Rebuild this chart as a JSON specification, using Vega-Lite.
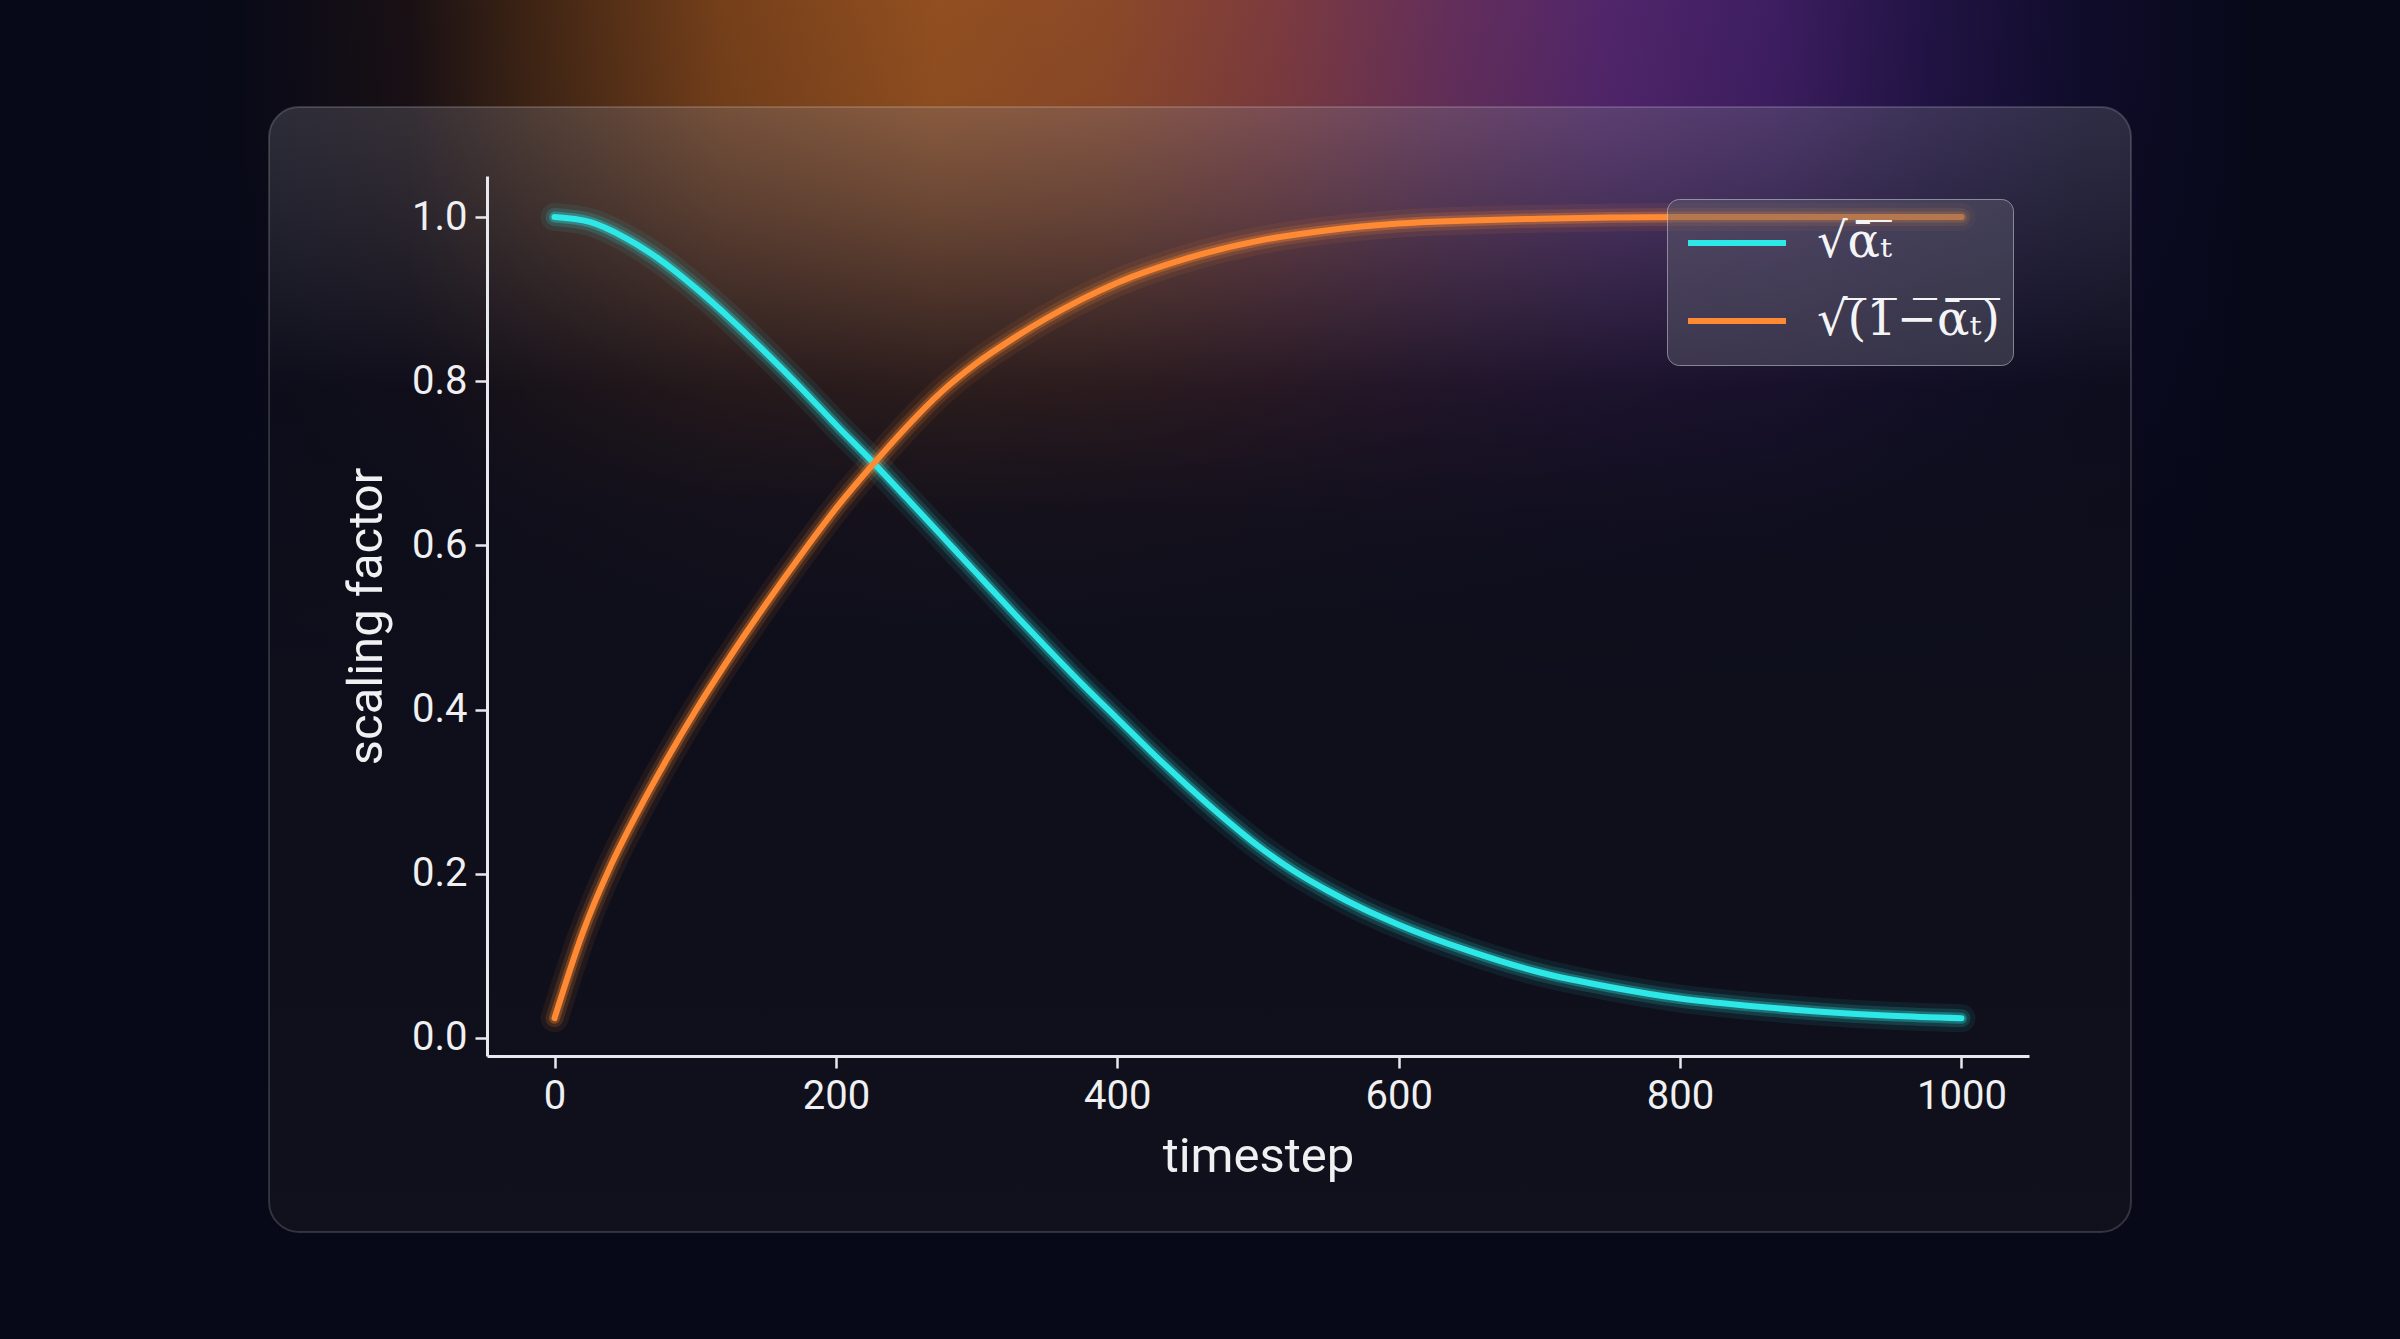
{
  "$schema": "https://vega.github.io/schema/vega-lite/v6.json",
  "autosize": {"type": "none"},
  "padding": {"left": 487, "top": 176, "right": 371, "bottom": 283},
  "width": 1542,
  "height": 880,
  "background": "#070919",
  "config": {
    "view": {"stroke": null},
    "axis": {
      "grid": false,
      "domainColor": "#e8e8ee",
      "domainWidth": 3,
      "tickColor": "#e8e8ee",
      "tickWidth": 2.5,
      "tickSize": 12,
      "labelColor": "#f0f0f2",
      "labelFont": "Roboto",
      "labelFontSize": 40,
      "labelPadding": 8,
      "labelFlush": false,
      "labelOverlap": false,
      "titleColor": "#f0f0f2",
      "titleFont": "Roboto",
      "titleFontSize": 49,
      "titleFontWeight": "normal"
    }
  },
  "datasets": {
    "curves": [
      {"t": 0, "series": "√ᾱ̅ₜ̅", "v": 1.0},
      {"t": 25, "series": "√ᾱ̅ₜ̅", "v": 0.994},
      {"t": 50, "series": "√ᾱ̅ₜ̅", "v": 0.975},
      {"t": 75, "series": "√ᾱ̅ₜ̅", "v": 0.948},
      {"t": 100, "series": "√ᾱ̅ₜ̅", "v": 0.914},
      {"t": 125, "series": "√ᾱ̅ₜ̅", "v": 0.876},
      {"t": 150, "series": "√ᾱ̅ₜ̅", "v": 0.835},
      {"t": 175, "series": "√ᾱ̅ₜ̅", "v": 0.792},
      {"t": 200, "series": "√ᾱ̅ₜ̅", "v": 0.747},
      {"t": 227, "series": "√ᾱ̅ₜ̅", "v": 0.7},
      {"t": 250, "series": "√ᾱ̅ₜ̅", "v": 0.658},
      {"t": 275, "series": "√ᾱ̅ₜ̅", "v": 0.612},
      {"t": 300, "series": "√ᾱ̅ₜ̅", "v": 0.566},
      {"t": 325, "series": "√ᾱ̅ₜ̅", "v": 0.52},
      {"t": 350, "series": "√ᾱ̅ₜ̅", "v": 0.475},
      {"t": 375, "series": "√ᾱ̅ₜ̅", "v": 0.431},
      {"t": 400, "series": "√ᾱ̅ₜ̅", "v": 0.389},
      {"t": 425, "series": "√ᾱ̅ₜ̅", "v": 0.347},
      {"t": 450, "series": "√ᾱ̅ₜ̅", "v": 0.307},
      {"t": 475, "series": "√ᾱ̅ₜ̅", "v": 0.269},
      {"t": 500, "series": "√ᾱ̅ₜ̅", "v": 0.234},
      {"t": 525, "series": "√ᾱ̅ₜ̅", "v": 0.204},
      {"t": 550, "series": "√ᾱ̅ₜ̅", "v": 0.179},
      {"t": 575, "series": "√ᾱ̅ₜ̅", "v": 0.157},
      {"t": 600, "series": "√ᾱ̅ₜ̅", "v": 0.138},
      {"t": 650, "series": "√ᾱ̅ₜ̅", "v": 0.106},
      {"t": 700, "series": "√ᾱ̅ₜ̅", "v": 0.08},
      {"t": 750, "series": "√ᾱ̅ₜ̅", "v": 0.062},
      {"t": 800, "series": "√ᾱ̅ₜ̅", "v": 0.048},
      {"t": 850, "series": "√ᾱ̅ₜ̅", "v": 0.039},
      {"t": 900, "series": "√ᾱ̅ₜ̅", "v": 0.032},
      {"t": 950, "series": "√ᾱ̅ₜ̅", "v": 0.027},
      {"t": 1000, "series": "√ᾱ̅ₜ̅", "v": 0.024},
      {"t": 0, "series": "√(̅1̅−̅ᾱ̅ₜ̅)̅", "v": 0.024},
      {"t": 20, "series": "√(̅1̅−̅ᾱ̅ₜ̅)̅", "v": 0.128},
      {"t": 40, "series": "√(̅1̅−̅ᾱ̅ₜ̅)̅", "v": 0.21},
      {"t": 60, "series": "√(̅1̅−̅ᾱ̅ₜ̅)̅", "v": 0.278},
      {"t": 80, "series": "√(̅1̅−̅ᾱ̅ₜ̅)̅", "v": 0.34},
      {"t": 100, "series": "√(̅1̅−̅ᾱ̅ₜ̅)̅", "v": 0.398},
      {"t": 125, "series": "√(̅1̅−̅ᾱ̅ₜ̅)̅", "v": 0.465},
      {"t": 150, "series": "√(̅1̅−̅ᾱ̅ₜ̅)̅", "v": 0.528},
      {"t": 175, "series": "√(̅1̅−̅ᾱ̅ₜ̅)̅", "v": 0.588},
      {"t": 200, "series": "√(̅1̅−̅ᾱ̅ₜ̅)̅", "v": 0.645},
      {"t": 227, "series": "√(̅1̅−̅ᾱ̅ₜ̅)̅", "v": 0.7},
      {"t": 250, "series": "√(̅1̅−̅ᾱ̅ₜ̅)̅", "v": 0.744},
      {"t": 275, "series": "√(̅1̅−̅ᾱ̅ₜ̅)̅", "v": 0.787},
      {"t": 300, "series": "√(̅1̅−̅ᾱ̅ₜ̅)̅", "v": 0.822},
      {"t": 325, "series": "√(̅1̅−̅ᾱ̅ₜ̅)̅", "v": 0.851},
      {"t": 350, "series": "√(̅1̅−̅ᾱ̅ₜ̅)̅", "v": 0.877},
      {"t": 375, "series": "√(̅1̅−̅ᾱ̅ₜ̅)̅", "v": 0.9},
      {"t": 400, "series": "√(̅1̅−̅ᾱ̅ₜ̅)̅", "v": 0.92},
      {"t": 450, "series": "√(̅1̅−̅ᾱ̅ₜ̅)̅", "v": 0.95},
      {"t": 500, "series": "√(̅1̅−̅ᾱ̅ₜ̅)̅", "v": 0.971},
      {"t": 550, "series": "√(̅1̅−̅ᾱ̅ₜ̅)̅", "v": 0.984},
      {"t": 600, "series": "√(̅1̅−̅ᾱ̅ₜ̅)̅", "v": 0.992},
      {"t": 700, "series": "√(̅1̅−̅ᾱ̅ₜ̅)̅", "v": 0.998},
      {"t": 800, "series": "√(̅1̅−̅ᾱ̅ₜ̅)̅", "v": 1.0},
      {"t": 900, "series": "√(̅1̅−̅ᾱ̅ₜ̅)̅", "v": 1.0},
      {"t": 1000, "series": "√(̅1̅−̅ᾱ̅ₜ̅)̅", "v": 1.0}
    ]
  },
  "data": {"name": "curves"},
  "layer": [
    {
      "data": {"values": [{}]},
      "mark": {"type": "rect", "color": {"gradient": "linear", "x1": 0, "y1": 0, "x2": 1, "y2": 0, "stops": [
        {"offset": 0, "color": "rgb(7,9,25)"},
        {"offset": 0.1, "color": "rgb(9,10,24)"},
        {"offset": 0.17, "color": "rgb(25,16,20)"},
        {"offset": 0.22, "color": "rgb(62,36,20)"},
        {"offset": 0.3, "color": "rgb(118,64,26)"},
        {"offset": 0.39, "color": "rgb(148,80,32)"},
        {"offset": 0.46, "color": "rgb(142,74,40)"},
        {"offset": 0.53, "color": "rgb(127,60,62)"},
        {"offset": 0.6, "color": "rgb(102,48,90)"},
        {"offset": 0.67, "color": "rgb(82,38,108)"},
        {"offset": 0.74, "color": "rgb(62,30,98)"},
        {"offset": 0.8, "color": "rgb(35,20,70)"},
        {"offset": 0.87, "color": "rgb(15,12,42)"},
        {"offset": 0.94, "color": "rgb(7,9,25)"},
        {"offset": 1, "color": "rgb(7,9,25)"}
      ]}},
      "encoding": {
        "x": {"datum": -394.1, "type": "quantitative", "scale": {"domain": [-48, 1048], "nice": false, "zero": false}},
        "x2": {"datum": 1311.6},
        "y": {"datum": 1.3253, "type": "quantitative", "scale": {"domain": [-0.022, 1.05], "nice": false, "zero": false}},
        "y2": {"datum": 0.4117}
      }
    },
    {
      "data": {"values": [{}]},
      "mark": {"type": "rect", "color": {"gradient": "linear", "x1": 0, "y1": 0, "x2": 0, "y2": 1, "stops": [
        {"offset": 0, "color": "rgba(7,9,25,0)"},
        {"offset": 0.2, "color": "rgba(7,9,25,0.05)"},
        {"offset": 0.35, "color": "rgba(7,9,25,0.25)"},
        {"offset": 0.55, "color": "rgba(7,9,25,0.6)"},
        {"offset": 0.75, "color": "rgba(7,9,25,0.88)"},
        {"offset": 1, "color": "rgba(7,9,25,1)"}
      ]}},
      "encoding": {
        "x": {"datum": -394.1, "type": "quantitative"},
        "x2": {"datum": 1311.6},
        "y": {"datum": 1.3253, "type": "quantitative"},
        "y2": {"datum": 0.4117}
      }
    },
    {
      "data": {"values": [{}]},
      "mark": {"type": "rect", "cornerRadius": 30, "stroke": "rgba(255,255,255,0.16)", "strokeWidth": 2, "color": {"gradient": "linear", "x1": 0, "y1": 0, "x2": 0, "y2": 1, "stops": [
        {"offset": 0, "color": "rgba(130,130,142,0.28)"},
        {"offset": 0.25, "color": "rgba(20,18,30,0.35)"},
        {"offset": 0.55, "color": "rgba(15,16,27,0.8)"},
        {"offset": 1, "color": "rgba(16,17,28,0.95)"}
      ]}},
      "encoding": {
        "x": {"datum": -202.9, "type": "quantitative"},
        "x2": {"datum": 1120.5},
        "y": {"datum": 1.134, "type": "quantitative"},
        "y2": {"datum": -0.2363}
      }
    },
    {
      "mark": {"type": "line", "strokeWidth": 28, "opacity": 0.08, "interpolate": "monotone", "strokeCap": "round"},
      "encoding": {
        "x": {"field": "t", "type": "quantitative"},
        "y": {"field": "v", "type": "quantitative"},
        "color": {"field": "series", "type": "nominal"}
      }
    },
    {
      "mark": {"type": "line", "strokeWidth": 18, "opacity": 0.15, "interpolate": "monotone", "strokeCap": "round"},
      "encoding": {
        "x": {"field": "t", "type": "quantitative"},
        "y": {"field": "v", "type": "quantitative"},
        "color": {"field": "series", "type": "nominal"}
      }
    },
    {
      "mark": {"type": "line", "strokeWidth": 11, "opacity": 0.3, "interpolate": "monotone", "strokeCap": "round"},
      "encoding": {
        "x": {"field": "t", "type": "quantitative"},
        "y": {"field": "v", "type": "quantitative"},
        "color": {"field": "series", "type": "nominal"}
      }
    },
    {
      "mark": {"type": "line", "strokeWidth": 6, "interpolate": "monotone", "strokeCap": "round"},
      "encoding": {
        "x": {"field": "t", "type": "quantitative", "title": "timestep", "axis": {"values": [0, 200, 400, 600, 800, 1000], "format": "d", "titlePadding": 16, "zindex": 1}},
        "y": {"field": "v", "type": "quantitative", "title": "scaling factor", "axis": {"values": [0, 0.2, 0.4, 0.6, 0.8, 1.0], "format": ".1f", "titlePadding": 20, "zindex": 1}},
        "color": {
          "field": "series",
          "type": "nominal",
          "scale": {"domain": ["√ᾱ̅ₜ̅", "√(̅1̅−̅ᾱ̅ₜ̅)̅"], "range": ["#2ee8e8", "#ff8a33"]},
          "legend": {
            "title": null,
            "orient": "none",
            "legendX": 1180,
            "legendY": 23,
            "direction": "vertical",
            "fillColor": "rgba(95,95,110,0.45)",
            "strokeColor": "rgba(210,210,220,0.55)",
            "cornerRadius": 12,
            "padding": 12,
            "clipHeight": 64,
            "symbolOffset": 6,
            "symbolType": "stroke",
            "symbolSize": 9604,
            "symbolStrokeWidth": 6,
            "symbolOpacity": 1,
            "labelFont": "DejaVu Serif",
            "labelFontSize": 48,
            "labelColor": "#f4f4f6",
            "labelOffset": 28,
            "labelLimit": 400,
            "rowPadding": 14,
            "zindex": 2,
            "encode": {"symbols": {"update": {"opacity": {"value": 1}, "strokeOpacity": {"value": 1}}}}
          }
        }
      }
    }
  ]
}
